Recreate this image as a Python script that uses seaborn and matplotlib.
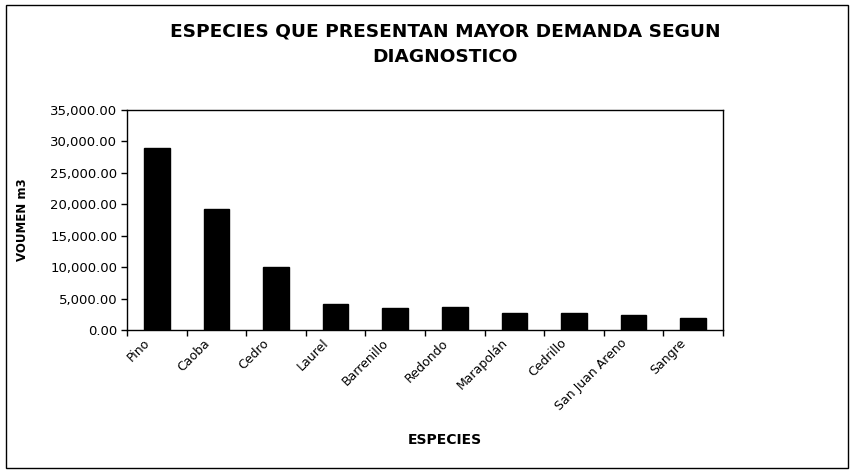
import matplotlib
matplotlib.use("Agg")
import matplotlib.pyplot as plt
import matplotlib.transforms as mtransforms
import seaborn as sns
from matplotlib.patches import Rectangle
from matplotlib.ticker import FuncFormatter, FixedLocator

especies = ["Pino", "Caoba", "Cedro", "Laurel", "Barrenillo", "Redondo",
            "Marapolán", "Cedrillo", "San Juan Areno", "Sangre"]
volumen = [29000, 19200, 9950, 4100, 3550, 3600, 2650, 2700, 2330, 1960]
yticks = [0, 5000, 10000, 15000, 20000, 25000, 30000, 35000]

sns.set_style("white")
plt.rcParams["font.family"] = ["DejaVu Sans"]
plt.rcParams["text.color"] = "black"
plt.rcParams["axes.labelcolor"] = "black"
plt.rcParams["xtick.color"] = "black"
plt.rcParams["ytick.color"] = "black"

fig = plt.figure(figsize=(8.54, 4.70), dpi=100)
ax = fig.add_axes([127 / 854, 1 - 330 / 470, 596 / 854, 220 / 470])

sns.barplot(x=especies, y=volumen, color="black", width=0.43,
            saturation=1, ax=ax, edgecolor="black")

ax.set_xlim(-0.5, len(especies) - 0.5)
ax.set_ylim(0, 35000)
ax.set_yticks(yticks)
ax.yaxis.set_major_formatter(FuncFormatter(lambda v, p: f"{v:,.2f}"))
ax.tick_params(axis="y", labelsize=9.5, length=4, width=1, direction="out",
               left=True, pad=3)

# category labels at centres, tick marks at the boundaries (Excel style)
ax.set_xticks(range(len(especies)))
ax.set_xticklabels(especies, rotation=45, ha="right", va="center",
                   rotation_mode="anchor", fontsize=9)
ax.tick_params(axis="x", which="major", length=0, pad=8)
shift = mtransforms.ScaledTranslation(-9 / 100, 0, fig.dpi_scale_trans)
for lbl in ax.get_xticklabels():
    lbl.set_transform(lbl.get_transform() + shift)
ax.xaxis.set_minor_locator(FixedLocator([i - 0.5 for i in range(len(especies) + 1)]))
ax.tick_params(axis="x", which="minor", length=4, width=1, bottom=True,
               direction="out")

for s in ax.spines.values():
    s.set_color("black")
    s.set_linewidth(1)

ax.set_xlabel("ESPECIES", fontsize=10, fontweight="bold")
ax.xaxis.set_label_coords(0.534, -0.47)
ax.set_ylabel("VOUMEN m3", fontsize=8.5, fontweight="bold")
ax.yaxis.set_label_coords(-0.165, 0.5)

fig.text(0.521, 0.905, "ESPECIES QUE PRESENTAN MAYOR DEMANDA SEGUN\nDIAGNOSTICO",
         ha="center", va="center", fontsize=13.3, fontweight="bold",
         linespacing=1.55)

# outer chart frame
fig.patches.append(Rectangle((6 / 854, 2 / 470), 842 / 854, 463 / 470,
                             transform=fig.transFigure, fill=False,
                             edgecolor="black", linewidth=1))

fig.savefig("out.png", dpi=100)
